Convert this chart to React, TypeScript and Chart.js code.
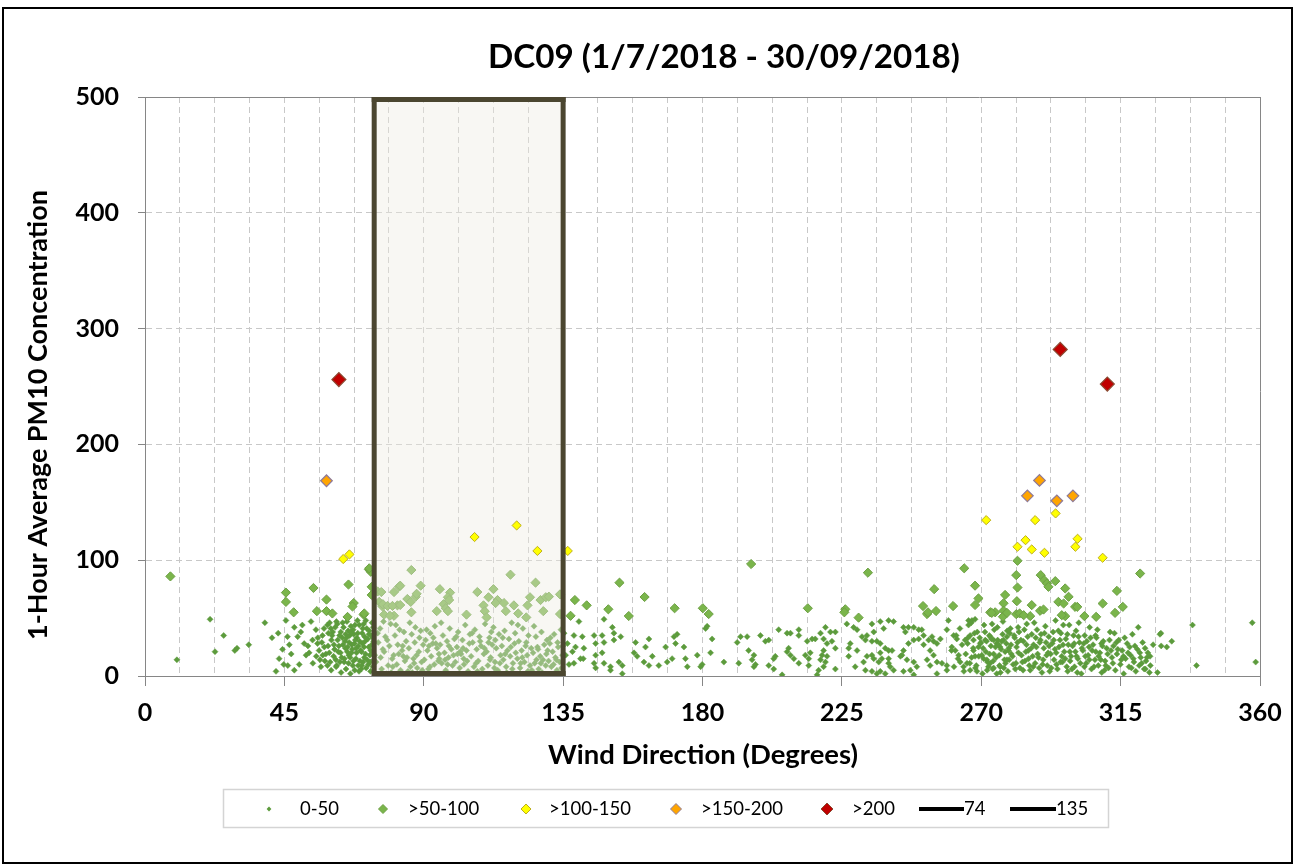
import React, { useEffect, useRef } from 'react';
import { Chart, registerables } from 'chart.js';

Chart.register(...registerables);

// ---------- text ----------
const TITLE = 'DC09 (1/7/2018 - 30/09/2018)';
const X_TITLE = 'Wind Direction (Degrees)';
const Y_TITLE = '1-Hour Average PM10 Concentration';
const SERIES_NAMES = ['0-50', '>50-100', '>100-150', '>150-200', '>200', '74', '135'];

// ---------- axes ----------
const xGridValues = [0, 11.25, 22.5, 33.75, 45, 56.25, 67.5, 78.75, 90, 101.25, 112.5, 123.75, 135, 146.25, 157.5, 168.75, 180, 191.25, 202.5, 213.75, 225, 236.25, 247.5, 258.75, 270, 281.25, 292.5, 303.75, 315, 326.25, 337.5, 348.75, 360];
const xLabelValues = [0, 45, 90, 135, 180, 225, 270, 315, 360];
const yTickValues = [0, 100, 200, 300, 400, 500];
const boxStart = 74;
const boxEnd = 135;

// ---------- data: [wind direction, PM10] ----------
const pm0to50West: number[][] = [
  [10.3,14],[21,49],[22.6,21],[25.4,35],[29,22],[29.7,24],[33.5,27],[38.7,46],[41,33],[42.3,4],[43,37],[44.4,23],[43.3,15],[44.8,10],
  [45.5,48],[48.2,42],[46,34],[46.6,27],[46.1,9],[49.3,34],[50.3,38],[51.4,28],[52,18],[49.8,10],[48.2,5],[47.2,19],[50.8,44],
  [53.6,47],[55.2,40],[57.3,35],[58.9,44],[60,41],[54.1,31],[55.7,28],[57.9,25],[60.2,31],[53,20],[55.3,17],[57.4,18],[59.5,20],[54.2,11],[56.8,8],[58.9,9],[60.1,5],[61.6,14],[62.2,31],[56.2,22],[58.1,13],[52.6,26],[59.2,37],[61,27],
  [62.1,45],[63.2,38],[64.1,42],[64.6,30],[65.2,47],[65.4,25],[66.1,35],[66.7,20],[67.2,40],[67.6,28],[68.1,15],[68.4,33],[69.2,44],[69.6,22],[70.1,37],[70.4,12],[71.1,30],[71.6,41],[72.2,25],[72.6,18],[73.1,35],[73.6,8],
  [63.1,20],[64.3,12],[64.9,6],[66.2,16],[67.1,9],[68.2,24],[69.1,4],[70.2,28],[71.2,19],[72.1,10],[73.3,46],[73.8,30],[62.6,26],[63.7,33],[64.4,15],[65.6,39],[66.5,43],[67.4,36],[68.6,48],[69.4,13],[70.6,45],[71.4,7],[72.4,39],[73.4,21],
  [61.2,23],[60.6,38],[61.9,9],[65.9,29],[67.9,31],[69.9,21],[71.9,32],[73.9,14],[68.9,26],[66.9,23],[63.9,27],[70.9,34],[72.8,4],[73.2,27],[66.3,2],[70.8,16],[61.8,47],[63.3,3],[68.8,9],[73.7,42],[65.7,11],[71.3,48],
  [55.8,33],[56.5,14],[57.1,29],[57.8,41],[58.4,19],[59.1,26],[59.8,12],[60.4,35],[60.9,17],[61.4,42],[61.7,8],[62.4,21],[62.8,35],[63.5,16],[63.8,46],[64.7,24],[65.1,33],[65.8,18],[66.4,38],[66.8,27],
  [67.3,13],[67.8,44],[68.3,20],[68.7,37],[69.3,30],[69.8,6],[70.3,41],[70.7,25],[71.7,14],[72.3,36],[72.9,22],[73.5,33],[74.2,18],[59.6,46],[62.9,12],[65.3,21],[67.7,5],[70,9],[72.7,12],[64.8,36]
];

const pm0to50Box: number[][] = [
  [74.6,12],[75.3,29],[75.9,41],[76.4,6],[77.2,21],[77.6,34],[78.5,9],[78.9,26],[79.3,45],[79.8,15],[75.1,37],[76.8,23],[77,47],[78.2,31],[79.5,3],
  [80.3,18],[80.7,35],[81.3,10],[81.6,27],[82.2,40],[82.5,5],[83,22],[83.6,38],[83.9,13],[84.3,30],[84.9,4],[81,44],[81.9,19],[83.2,26],[84.6,16],
  [85.2,24],[85.7,8],[86.1,36],[86.7,15],[87.1,29],[87.3,42],[87.9,7],[88.4,21],[88.6,33],[89.3,12],[89.8,27],[85.5,46],[86.3,3],[87.7,18],[89,39],
  [90.2,14],[90.6,31],[91.2,22],[91.5,6],[92.1,37],[92.4,17],[92.9,28],[93.4,10],[93.6,43],[94.3,24],[94.7,13],[90.9,40],[92,8],[93.1,33],[94.9,19],
  [95.3,27],[95.8,11],[96.2,35],[96.7,20],[97.1,5],[97.5,30],[98,16],[98.4,41],[98.9,23],[99.3,9],[99.9,32],[95.6,46],[96.9,14],[98.1,26],[99.6,18],
  [100.2,12],[100.7,25],[101.1,38],[101.6,7],[102,19],[102.5,31],[102.9,15],[103.4,44],[103.8,22],[104.3,4],[104.7,28],[100.5,34],[101.8,21],[103,10],[104.9,36],
  [105.3,17],[105.8,29],[106.2,8],[106.5,40],[107.1,23],[107.6,13],[108,34],[108.5,26],[108.9,6],[109.4,19],[109.8,45],[105.6,37],[106.9,11],[108.2,30],[109.6,24],
  [110.3,21],[110.7,9],[111.2,33],[111.6,16],[112.1,27],[112.5,42],[113,12],[113.4,24],[113.9,5],[114.3,36],[114.8,18],[110.9,29],[111.8,38],[113.1,31],[114.6,11],
  [115.2,26],[115.7,14],[116.1,39],[116.6,8],[117,22],[117.5,32],[117.9,17],[118.4,46],[118.8,11],[119.3,28],[119.7,20],[115.5,33],[116.8,3],[118.1,25],[119.5,37],
  [120.2,15],[120.7,30],[121.1,7],[121.6,22],[122,41],[122.5,12],[122.9,26],[123.4,18],[123.8,35],[124.3,9],[124.7,24],[120.4,44],[121.8,16],[123.1,29],[124.9,5],
  [125.3,20],[125.8,11],[126.2,34],[126.7,25],[127.1,6],[127.6,17],[128,38],[128.5,14],[128.9,27],[129.4,9],[129.8,31],[125.6,43],[126.9,23],[128.2,3],[129.6,19],
  [130.3,13],[130.7,28],[131.2,8],[131.6,21],[132.1,36],[132.5,16],[133,5],[133.4,25],[133.9,12],[134.3,40],[134.8,18],[130.9,33],[131.9,10],[133.2,29],[134.5,7],
  [76.1,16],[80,8],[83.4,17],[86.9,11],[91.7,26],[95,15],[100.9,19],[104,13],[107.3,4],[111.4,14],[116.3,19],[121.3,11],[126.4,14],[130,22],[132.8,14],[134.9,26],[97.7,10],[102.7,24],[112.8,7],[118.6,6],[123.6,4],[127.8,11],[89.5,5],[93.9,28],[78,2]
];

const pm0to50Mid: number[][] = [
  [140.1,47],[135.3,37],[138.5,35],[141.2,34],[145,35],[147.6,35],[151.4,37],[153.6,34],[150.9,42],[148.2,49],[136.4,28],[139,25],[141.7,24],[145.5,28],[148.2,29],[151.4,31],
  [138,21],[135.8,18],[140.6,15],[141.5,15],[138.5,11],[136.9,10],[145.5,18],[147.6,20],[145,11],[145.5,7],[148.2,11],[150.3,8],[153,12],[154.1,9],[150.3,5],[154.1,2],
  [158.4,29],[162.7,32],[161.6,25],[157.9,20],[158.9,17],[161.1,12],[163.8,17],[162.7,9],[165.9,9],[168.1,25],[170.8,34],[171.8,36],[171.3,28],[174,25],[170.2,15],[168.6,12],
  [174.5,15],[175.1,8],[178.3,18],[179.4,8],[179.9,10],[181.5,43],[181,41],[183.1,32],[182.6,20],[186.9,12],[191.2,29],[192.3,34],[194.4,34],[198.7,35],[200.3,30],[201.4,31],
  [194.9,22],[196.6,18],[196,14],[196.6,8],[197.1,10],[191.7,11],[201.4,9],[203,15],[203.5,17],[205.7,1],[203,6],
  [204.6,40],[207.3,37],[208.4,37],[211.1,40],[211.1,35],[207.8,24],[207.3,21],[208.4,18],[209.5,15],[211.1,11],[213.8,30],[213.2,18],[214.3,15],[214.8,20],[215.4,32],[216.4,32],
  [218.1,37],[219.7,42],[221.3,38],[222.9,38],[219.1,32],[220.2,28],[221.8,30],[222.9,24],[219.1,22],[218.6,18],[220.2,17],[218.1,14],[219.7,12],[219.1,8],[222.9,6],[217.5,5],[214.3,9],[217,1],
  [226.6,45],[228.8,42],[229.9,40],[231.5,34],[234.7,45],[237.4,47],[240.1,48],[241.7,47],[238.5,41],[235.3,38],[233.1,35],[232.6,31],[234.7,30],[236.3,30],[237.4,28],[239,24],
  [240.1,22],[241.2,22],[237.4,20],[234.7,18],[233.1,17],[235.3,15],[236.9,12],[237.9,15],[240.1,15],[240.1,11],[240.6,8],[237.4,4],[234.7,4],[232.6,5],[229.3,8],[227.2,17],
  [227.2,24],[227.7,28],[229.9,22],[232,12],[236.3,2],[239,2],[241.7,5],[243.9,17],[244.9,42],[245.5,38],[246.5,42],[248.2,42],[249.8,40],[250.8,40],[251.4,35],[248.2,31],
  [246.5,28],[244.9,22],[244.4,18],[246,14],[248.2,12],[249.2,8],[247.1,5],[244.9,4],[248.2,1],[249.8,32],[251.4,27],[253,31],[254.1,34],[254.6,30],[255.7,28],[256.8,32],
  [253.5,22],[254.6,18],[252.5,14],[253.5,9],[255.7,12],[257.3,11],[258.9,9],[258.9,5],[255.7,2],[258.9,40],[259.4,48]
];

const pm0to50East: number[][] = [
  [261.1,35],[262.1,32],[260.5,25],[261.6,22],[262.7,18],[263.2,12],[264.3,8],[264.8,31],[265.9,48],[267,48],[268,49],[265.9,44],[266.4,35],[267.5,31],[269.1,25],[267.5,22],
  [268,17],[270.2,18],[269.7,28],[271.3,31],[272.9,34],[274,31],[275,28],[276.1,25],[277.2,31],[278.3,34],[278.8,22],[271.8,14],[274,7],[276.1,8],[275,2],[272.9,11],[278.3,14],[268.6,4],[265.4,11],[266.4,5],
  [260.4,22],[261.2,8],[261.9,35],[262.5,15],[263.1,41],[263.8,27],[264.4,4],[265,19],[265.7,33],[266.3,11],[266.8,46],[267.4,24],[268.1,7],[268.7,38],[269.2,17],[269.9,29],
  [270.4,2],[270.9,44],[271.5,21],[272,12],[272.6,35],[273.1,26],[273.7,6],[274.2,40],[274.8,16],[275.3,31],[275.9,9],[276.4,23],[277,47],[277.5,14],[278.1,28],[278.6,4],
  [279.2,37],[279.7,19],[280.3,10],[280.8,33],[281.4,25],[281.9,42],[282.5,7],[283,18],[283.6,30],[284.1,13],[284.7,45],[285.2,22],[285.8,5],[286.3,36],[286.9,27],[287.4,11],
  [288,40],[288.5,16],[289.1,31],[289.6,3],[290.2,24],[290.7,43],[291.3,9],[291.8,34],[292.4,19],[292.9,28],[293.5,14],[294,48],[294.6,6],[295.1,25],[295.7,37],[296.2,12],
  [296.8,21],[297.3,32],[297.9,4],[298.4,44],[299,17],[299.5,26],[300.1,8],[300.6,39],[301.2,15],[301.7,29],[302.3,2],[302.8,22],[303.4,35],[303.9,11],[304.5,18],[305,42],
  [305.6,6],[306.1,27],[306.7,14],[307.2,33],[307.8,9],[308.3,20],[308.9,3],[309.4,30],[310,13],[310.5,24],[311.1,7],[311.6,38],[312.2,16],[312.7,26],[313.3,5],[313.8,19],
  [314.4,31],[314.9,10],[315.5,22],[316,2],[316.6,15],[317.1,28],[317.7,8],[318.2,18],[318.8,36],[319.3,12],[319.9,4],[320.4,23],[321,9],[321.5,16],[322.1,29],[322.6,6],[323.2,13],[323.8,20],[324.3,3],
  [270.8,15],[271.7,30],[272.3,8],[273.5,45],[274,19],[275.6,27],[276.2,3],[276.9,36],[277.8,11],[278.9,24],[279.4,41],[280.1,17],[281,6],[281.7,29],[282.2,38],[283.3,12],
  [284.4,21],[285,34],[285.5,9],[286.6,17],[287.1,46],[287.8,25],[288.7,7],[289.3,36],[290,14],[290.9,29],[291.6,20],[292.1,4],[293.2,38],[293.8,23],[294.3,10],[295.4,31],
  [296,17],[296.5,44],[297.6,8],[298.1,27],[298.7,13],[299.8,35],[300.4,21],[301,3],[301.5,46],[302,11],[303.1,28],[303.6,17],[304.8,25],[305.3,33],[306.4,8],[307,21],
  [307.5,40],[308.6,14],[309.1,26],[309.8,5],[310.8,19],[311.4,31],[312.5,11],[313,37],[314.1,23],[315.2,14],[316.3,33],[317.4,20],[318.5,7],[319.6,26],[320.7,42],[321.8,11],
  [322.9,24],[323.5,16],[324.6,9],[325.5,27],[326.9,3],[324.5,17],[328,37],[328.1,26],[329.9,25],[331.5,30],[327.7,36],[338.2,44],[339.5,9],[357.5,46],[358.6,12],
  [265.6,28],[266.9,16],[267.8,37],[268.4,9],[269.5,33],[270.6,24],[271.2,38],[271.9,5],[272.7,19],[273.3,32],[273.9,13],[274.6,25],[275.2,42],[275.8,18],[276.6,30],[277.3,7],
  [277.7,21],[278.4,39],[279,14],[279.6,27],[280.6,35],[281.2,11],[282,20],[282.8,31],[283.5,5],[283.9,40],[284.6,27],[285.3,15],[286.1,24],[286.8,8],[287.6,33],[288.2,19],
  [288.9,29],[289.8,10],[290.4,37],[291.1,18],[291.9,26],[292.6,7],[293.4,31],[294.2,20],[294.9,39],[295.6,12],[296.4,27],[297.1,15],[297.8,36],[298.6,21],[299.3,6],[300,28],
  [300.8,17],[301.4,34],[302.5,24],[303.3,8],[304.1,30],[304.9,14],[305.8,22],[306.9,35],[307.9,17],[308.8,28],[310.2,9],[311.9,22],[313.6,29],[315.9,17],[317.9,25],[319.1,15],[321.2,20],[323,6]
];

const pm50to100: number[][] = [
  [8.2,86],[45.5,72],[45.5,64],[48,55],[54.4,76],[58.6,66],[55.5,56],[58.6,56],[60.5,54],[65.7,79],[67.4,63],[67,60],[65.4,51],[70.6,53],[72.3,92],[72.9,90],[73.2,77],[73.2,70],[72.4,93],[70.8,54],
  [75.1,73],[75.6,64],[76.7,60],[77.2,53],[81.5,61],[82,77],
  [86,91.5],[82.4,78],[80.4,72.5],[89,78],[84.7,66.5],[85.8,64],[87.4,68.5],[87.7,71],[86,55],[76.8,62],[78.3,60.5],[79.9,60.5],[82.4,61.3],[80.4,52],[79.1,52],[76.3,72.5],
  [95.2,75],[98.5,72],[97.8,68],[98.2,65.6],[96.4,62],[97.1,58.5],[97.8,56],[94.2,56],[103.8,53],[107.3,72.5],[112.5,75],[110.9,68],[109.3,61],[109.7,56],[110.3,50.6],
  [113.8,65.6],[113.2,63],[115.9,63],[116.5,56],[118,87.5],[119.1,61],[120.5,54],[123.1,50.6],[123.5,61],[124.3,68],[126.1,80.6],[127.7,65.6],[129.4,68],[130.4,68.5],[128.6,56],[134,70.5],[134,53.5],
  [138.8,65.6],[142.6,61],[137.4,52],[153.2,80.6],[149.6,57.6],[156.2,51.8],[161.3,68.2],[171,58.5],[180.1,58.5],[182,53.5],[195.7,96.7],[214,58.5],[226.1,57.6],[225.8,55],[230.4,50.4],[233.4,89.2],
  [251.2,60.4],[252.5,53.5],[255.4,56.1],[252.8,55],[254.8,75],[260.9,60.4],[264.5,93],[268,78],[269.1,67],[268,61.3],[272.9,55],[274.5,55],[277.7,70],[277.2,62.8],[277.2,56.4],[277,51.2],
  [281.7,99.5],[281.3,87.1],[281.7,76.4],[289.2,87.1],[290.3,82.8],[291.2,79.9],[291.7,77],[293.9,81.9],[281.5,64.6],[281.3,53.4],[286.3,61.2],[297.1,75.6],[298.2,68.4],[294.9,64],[296.6,62.6],
  [300.3,59.7],[301,59.7],[297.1,51.7],[296,52.5],[303.3,51.7],[307.1,51.1],[309.2,62.6],[313.8,73.5],[315.7,59.7],[313.2,54.5],[321.3,88.5],[278.3,54.5],[282.4,54],[285.8,51.7],[283.7,52.5],
  [289,56.3],[290.1,57.4],[273.4,54.5]
];

const pm100to150: number[][] = [
  [64,101],[66,105],[106.4,120],[120,130],[126.7,108],[136.5,108],[271.6,134.6],[287.4,134.6],[294,140.4],[284.3,117.3],[281.7,111.6],[286.3,109.3],[290.4,106.4],[301.1,118.5],[300.4,111.6],[309.2,102.1]
];
const pm150to200: number[][] = [[58.6,168.6],[288.8,168.9],[284.9,155.6],[294.4,151.3],[299.6,155.6]];
const pm200plus: number[][] = [[62.6,256],[295.5,282],[310.7,252.1]];

// ---------- styling ----------
const FONT = 'Lato';
const GRID = '#c8c8c8';
const AXIS = '#868686';
const BOX_EDGE = '#4b4630';
const BOX_FILL = 'rgba(238,234,224,0.4)';
const SERIES_STYLE = [
  { bg: '#5c9b3c', border: '#5c9b3c', r: 3, bw: 0.5 },
  { bg: '#7ab54b', border: '#6c9f43', r: 4.6, bw: 1 },
  { bg: '#ffff00', border: '#bcae1e', r: 4.6, bw: 1 },
  { bg: '#ffa500', border: '#8e7a98', r: 5.8, bw: 1.2 },
  { bg: '#c00000', border: '#8a4a32', r: 7, bw: 1.2 },
];

const toXY = (arr: number[][]) => arr.map(([x, y]) => ({ x, y }));

function fitSize(ctx: CanvasRenderingContext2D, text: string, weight: string, target: number) {
  ctx.font = `${weight} 100px ${FONT}`;
  const w = ctx.measureText(text).width;
  return (100 * target) / w;
}

function diamond(ctx: CanvasRenderingContext2D, x: number, y: number, r: number, fill: string, stroke: string, lw: number) {
  ctx.beginPath();
  ctx.moveTo(x, y - r);
  ctx.lineTo(x + r, y);
  ctx.lineTo(x, y + r);
  ctx.lineTo(x - r, y);
  ctx.closePath();
  ctx.fillStyle = fill;
  ctx.fill();
  if (lw > 0) {
    ctx.lineWidth = lw;
    ctx.strokeStyle = stroke;
    ctx.stroke();
  }
}

const decorPlugin = {
  id: 'decor',
  beforeDatasetsDraw(chart: any) {
    const { ctx, chartArea: a } = chart;
    ctx.save();
    ctx.strokeStyle = AXIS;
    ctx.lineWidth = 1;
    ctx.beginPath();
    ctx.moveTo(a.left - 7, Math.round(a.top) + 0.5);
    ctx.lineTo(a.right, Math.round(a.top) + 0.5);
    ctx.moveTo(Math.round(a.right) + 0.5, a.top);
    ctx.lineTo(Math.round(a.right) + 0.5, a.bottom + 10);
    ctx.stroke();
    ctx.restore();
  },
  beforeDatasetDraw(chart: any, args: any) {
    if (args.index !== 2) return;
    const { ctx, chartArea: a, scales } = chart;
    const x1 = scales.x.getPixelForValue(boxStart);
    const x2 = scales.x.getPixelForValue(boxEnd);
    ctx.save();
    ctx.fillStyle = BOX_FILL;
    ctx.fillRect(x1, a.top, x2 - x1, a.bottom - a.top);
    ctx.restore();
  },
  afterDatasetsDraw(chart: any) {
    const { ctx, chartArea: a, scales } = chart;
    const x1 = scales.x.getPixelForValue(boxStart);
    const x2 = scales.x.getPixelForValue(boxEnd);
    ctx.save();
    ctx.strokeStyle = BOX_EDGE;
    ctx.lineWidth = 5;
    ctx.beginPath();
    ctx.moveTo(x1 - 2.5, a.top + 2.5);
    ctx.lineTo(x2 + 2.5, a.top + 2.5);
    ctx.moveTo(x1 - 2.5, a.bottom - 2.5);
    ctx.lineTo(x2 + 2.5, a.bottom - 2.5);
    ctx.stroke();
    ctx.restore();
  },
  afterDraw(chart: any) {
    const { ctx } = chart;
    ctx.save();
    ctx.fillStyle = '#000';
    ctx.textAlign = 'center';
    ctx.textBaseline = 'middle';
    // title
    let s = fitSize(ctx, TITLE, 'bold', 472);
    ctx.font = `bold ${s}px ${FONT}`;
    ctx.fillText(TITLE, 724, 57);
    // x title
    s = fitSize(ctx, X_TITLE, 'bold', 310);
    ctx.font = `bold ${s}px ${FONT}`;
    ctx.fillText(X_TITLE, 703, 755);
    // y title
    s = fitSize(ctx, Y_TITLE, 'bold', 450);
    ctx.font = `bold ${s}px ${FONT}`;
    ctx.save();
    ctx.translate(38, 415);
    ctx.rotate(-Math.PI / 2);
    ctx.fillText(Y_TITLE, 0, 0);
    ctx.restore();

    // legend
    ctx.strokeStyle = '#d4d4d4';
    ctx.lineWidth = 1.5;
    ctx.strokeRect(223.5, 789.5, 885, 38);
    const ly = 809;
    const ls = fitSize(ctx, SERIES_NAMES[3], 'normal', 82);
    ctx.font = `normal ${ls}px ${FONT}`;
    ctx.textAlign = 'left';
    const marks = [269, 383, 526, 676, 827];
    const texts = [300, 408, 549, 701, 852];
    const legendR = [2.4, 4.5, 5, 5.5, 6];
    for (let i = 0; i < 5; i++) {
      const st = SERIES_STYLE[i];
      diamond(ctx, marks[i], ly, legendR[i], st.bg, st.border, i === 0 ? 0 : 1);
      ctx.fillStyle = '#000';
      ctx.fillText(SERIES_NAMES[i], texts[i], ly);
    }
    ctx.strokeStyle = '#000';
    ctx.lineWidth = 4;
    ctx.beginPath();
    ctx.moveTo(919, ly);
    ctx.lineTo(964, ly);
    ctx.moveTo(1010, ly);
    ctx.lineTo(1056, ly);
    ctx.stroke();
    ctx.fillText(SERIES_NAMES[5], 964, ly);
    ctx.fillText(SERIES_NAMES[6], 1056, ly);
    ctx.restore();
  },
};

export default function App() {
  const canvasRef = useRef<HTMLCanvasElement | null>(null);

  useEffect(() => {
    document.body.style.margin = '0';
    const canvas = canvasRef.current;
    if (!canvas) return;
    const scatterSets = [pm0to50West.concat(pm0to50Box, pm0to50Mid, pm0to50East), pm50to100, pm100to150, pm150to200, pm200plus];
    const datasets: any[] = scatterSets.map((d, i) => ({
      type: 'scatter',
      label: SERIES_NAMES[i],
      data: toXY(d),
      pointStyle: 'rectRot',
      pointRadius: SERIES_STYLE[i].r,
      pointHoverRadius: SERIES_STYLE[i].r,
      pointBackgroundColor: SERIES_STYLE[i].bg,
      pointBorderColor: SERIES_STYLE[i].border,
      pointBorderWidth: SERIES_STYLE[i].bw,
      order: 6 - i,
    }));
    [boxStart, boxEnd].forEach((v, k) => {
      datasets.push({
        type: 'line',
        label: SERIES_NAMES[5 + k],
        data: [{ x: v, y: yTickValues[0] }, { x: v, y: yTickValues[yTickValues.length - 1] }],
        borderColor: BOX_EDGE,
        borderWidth: 5,
        pointRadius: 0,
        showLine: true,
        fill: false,
        order: 0,
      });
    });

    const tickFont = { family: FONT, size: 25, weight: 'bold' as const };
    const chart = new Chart(canvas, {
      type: 'scatter',
      data: { datasets },
      options: {
        responsive: false,
        animation: false,
        events: [],
        layout: { padding: { left: 65, right: 40, top: 97, bottom: 130 } },
        plugins: { legend: { display: false }, title: { display: false }, tooltip: { enabled: false } },
        scales: {
          x: {
            type: 'linear',
            min: 0,
            max: 360,
            afterBuildTicks: (s: any) => { s.ticks = xGridValues.map((v) => ({ value: v })); },
            afterFit: (s: any) => { s.height = 60; },
            ticks: {
              autoSkip: false,
              maxRotation: 0,
              minRotation: 0,
              padding: 12,
              color: '#000',
              font: tickFont,
              callback: (v: any) => (xLabelValues.includes(Number(v)) ? String(v) : ''),
            },
            grid: {
              color: (c: any) => (c.tick && (c.tick.value === 0 || c.tick.value === 360) ? 'rgba(0,0,0,0)' : GRID),
              lineWidth: 1,
              tickLength: 10,
              tickColor: (c: any) => (c.tick && xLabelValues.includes(c.tick.value) ? AXIS : 'rgba(0,0,0,0)'),
            },
            border: { display: true, color: AXIS, width: 1, dash: [6, 4] },
          },
          y: {
            type: 'linear',
            min: 0,
            max: 500,
            afterBuildTicks: (s: any) => { s.ticks = yTickValues.map((v) => ({ value: v })); },
            afterFit: (s: any) => { s.width = 80; },
            ticks: { padding: 19, color: '#000', font: tickFont, callback: (v: any) => String(v) },
            grid: {
              color: (c: any) => (c.tick && (c.tick.value === 0 || c.tick.value === 500) ? 'rgba(0,0,0,0)' : GRID),
              lineWidth: 1,
              tickLength: 7,
              tickColor: AXIS,
            },
            border: { display: true, color: AXIS, width: 1, dash: [6, 4] },
          },
        },
      } as any,
      plugins: [decorPlugin],
    });
    return () => chart.destroy();
  }, []);

  return (
    <div style={{ position: 'relative', width: 1300, height: 866 }}>
      <canvas ref={canvasRef} width={1300} height={866} style={{ display: 'block' }} />
      <div
        style={{
          position: 'absolute',
          left: 2,
          top: 7,
          width: 1291,
          height: 857,
          border: '2px solid #000',
          boxSizing: 'border-box',
          pointerEvents: 'none',
        }}
      />
    </div>
  );
}
